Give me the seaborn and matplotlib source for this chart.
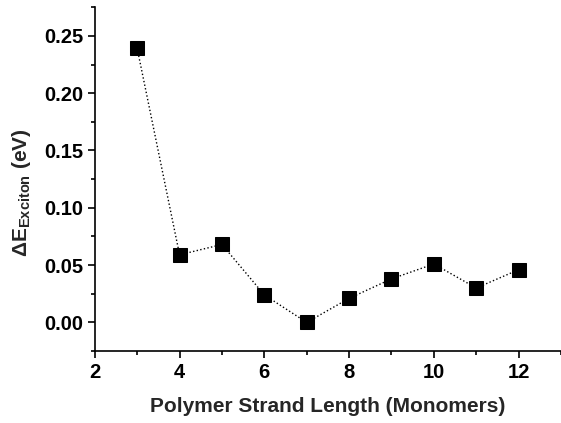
import matplotlib
matplotlib.use('Agg')
import matplotlib.pyplot as plt
import seaborn as sns
import pandas as pd
from matplotlib.ticker import MultipleLocator

# data
strand_length = [3, 4, 5, 6, 7, 8, 9, 10, 11, 12]
delta_e = [0.239, 0.059, 0.068, 0.024, 0.0, 0.021, 0.038, 0.051, 0.030, 0.046]

df = pd.DataFrame({'n': strand_length, 'dE': delta_e})

sns.set_style('ticks')
plt.rcParams['font.family'] = ['Liberation Sans', 'DejaVu Sans']
plt.rcParams['mathtext.fontset'] = 'custom'
plt.rcParams['mathtext.bf'] = 'Liberation Sans:bold'
plt.rcParams['mathtext.rm'] = 'Liberation Sans'

fig = plt.figure(figsize=(5.61, 4.23), dpi=100)
ax = fig.add_axes([0.169, 0.170, 0.831, 0.813])

sns.lineplot(data=df, x='n', y='dE', ax=ax, color='black', linestyle=':',
             linewidth=1, marker='s', markersize=9.5, markeredgecolor='black')

ax.set_xlim(2, 13)
ax.set_ylim(-0.025, 0.275)
ax.xaxis.set_major_locator(MultipleLocator(2))
ax.xaxis.set_minor_locator(MultipleLocator(1))
ax.yaxis.set_major_locator(MultipleLocator(0.05))
ax.yaxis.set_minor_locator(MultipleLocator(0.025))
ax.yaxis.set_major_formatter(matplotlib.ticker.FormatStrFormatter('%.2f'))

sns.despine(ax=ax)
for s in ['left', 'bottom']:
    ax.spines[s].set_linewidth(1.2)
    ax.spines[s].set_color('black')
ax.tick_params(which='major', length=5, width=1.2, direction='out', colors='black',
               labelsize=14.5)
ax.tick_params(which='minor', length=3, width=1.2, direction='out', colors='black')
for lab in ax.get_xticklabels() + ax.get_yticklabels():
    lab.set_fontweight('bold')

ax.set_xlabel('Polymer Strand Length (Monomers)', fontsize=15, fontweight='bold', labelpad=11)
ax.set_ylabel(r'ΔE$_{\mathbf{Exciton}}$ (eV)', fontsize=15, fontweight='bold')
ax.yaxis.set_label_coords(-0.133, 0.46)

fig.savefig('out.png', dpi=100)
